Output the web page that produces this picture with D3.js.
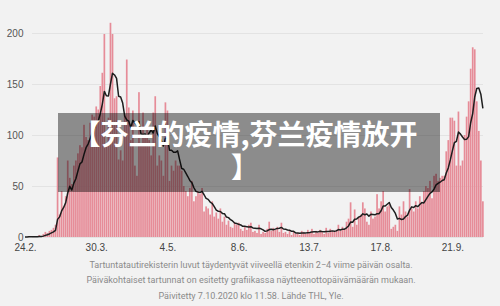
<!DOCTYPE html>
<html>
<head>
<meta charset="utf-8">
<script src="https://cdn.jsdelivr.net/npm/d3@7"></script>
<style>
  html, body { margin: 0; padding: 0; background: #f2f2f2; }
  svg { display: block; }
</style>
</head>
<body>
<div id="chart"></div>
<script>
// daily new cases from 24.2.2020 onwards (one value per day)
var firstDay = "24.2.2020";
var cases = [
  0, 0, 1, 0, 0, 0, 0,
  2, 1, 3, 5, 4, 6, 7,
  9, 12, 78, 22, 45, 30, 40,
  75, 58, 52, 70, 75, 82, 90,
  88, 110, 98, 95, 112, 120, 118,
  128, 125, 148, 161, 199, 90, 117,
  210, 199, 136, 138, 76, 85, 75,
  120, 174, 127, 95, 124, 70, 60,
  142, 90, 122, 100, 105, 95, 80,
  122, 138, 70, 80, 75, 60, 132,
  124, 55, 70, 65, 75, 70, 70,
  65, 50, 45, 40, 48, 55, 35,
  40, 45, 42, 48, 25, 30, 28,
  22, 35, 20, 24, 18, 28, 15,
  20, 12, 16, 10, 9, 14, 12,
  14, 8, 6, 10, 7, 12, 14,
  5, 6, 4, 12, 3, 5, 4,
  8, 15, 6, 9, 7, 10, 5,
  14, 4, 5, 3, 6, 2, 5,
  3, 4, 2, 6, 5, 3, 7,
  4, 8, 3, 6, 4, 7, 5,
  3, 9, 4, 8, 6, 5, 7,
  12, 6, 10, 8, 15, 18, 34,
  10, 27, 12, 20, 22, 34, 28,
  15, 12, 25, 18, 20, 42, 28,
  35, 45, 25, 30, 32, 8, 10,
  12, 6, 30, 22, 35, 25, 20,
  47, 28, 25, 35, 28, 40, 33,
  45, 50, 48, 55, 38, 60, 62,
  55, 58, 60, 60, 84, 95, 117,
  117, 114, 70, 123, 70, 75, 100,
  118, 133, 165, 186, 184, 133, 104,
  75, 35
];
var yTicks = [0, 50, 100, 150, 200];
var xTickLabels = ["24.2.", "30.3.", "4.5.", "8.6.", "13.7.", "17.8.", "21.9."];
var titleLines = ["【芬兰的疫情,芬兰疫情放开", "】"];
var notes = [
  "Tartuntatautirekisterin luvut täydentyvät viiveellä etenkin 2−4 viime päivän osalta.",
  "Päiväkohtaiset tartunnat on esitetty grafiikassa näytteenottopäivämäärän mukaan.",
  "Päivitetty 7.10.2020 klo 11.58. Lähde THL, Yle."
];

var w = 500, h = 306;
var parseDay = d3.utcParse("%d.%m.%Y");
var start = parseDay(firstDay);
var days = cases.map(function(v, i) { return d3.utcDay.offset(start, i); });

// 7 day trailing mean
var avg = cases.map(function(v, i) {
  return d3.mean(cases.slice(Math.max(0, i - 6), i + 1));
});

var svg = d3.select("#chart").append("svg")
  .attr("width", w)
  .attr("height", h);

svg.append("rect").attr("width", w).attr("height", h).attr("fill", "#f2f2f2");

var x = d3.scaleUtc()
  .domain([days[0], days[days.length - 1]])
  .range([25, 25 + (cases.length - 1) * 2.035]);
var y = d3.scaleLinear().domain([0, 200]).range([237, 33]);

// grid + y labels
svg.append("g")
  .attr("transform", "translate(32,0)")
  .attr("font-family", "Roboto, sans-serif")
  .attr("font-size", "10.5px")
  .call(d3.axisLeft(y).tickValues(yTicks).tickSize(-451).tickPadding(8.5))
  .call(function(g) {
    g.select(".domain").remove();
    g.selectAll("line").attr("stroke", "#e3e3e3");
    g.selectAll("text").attr("fill", "#555");
  });

// bars
svg.append("g").selectAll("rect")
  .data(cases)
  .enter()
  .append("rect")
  .attr("x", function(d, i) { return x(days[i]) - 0.85; })
  .attr("y", function(d) { return y(d); })
  .attr("width", 1.7)
  .attr("height", function(d) { return y(0) - y(d); })
  .attr("fill", "#e68c98");

// moving average
var line = d3.line()
  .x(function(d, i) { return x(days[i]); })
  .y(function(d) { return y(d); });

svg.append("path")
  .datum(avg)
  .attr("d", line)
  .attr("fill", "none")
  .attr("stroke", "#1e1e1e")
  .attr("stroke-width", 1.5)
  .attr("stroke-linejoin", "round");

// x labels
var tickDates = xTickLabels.map(function(t) { return parseDay(t + "2020"); });
svg.append("g")
  .attr("transform", "translate(0,237)")
  .attr("font-family", "Roboto, sans-serif")
  .attr("font-size", "10.5px")
  .call(d3.axisBottom(x).tickValues(tickDates).tickSize(0).tickPadding(7)
    .tickFormat(function(d, i) { return xTickLabels[i]; }))
  .call(function(g) {
    g.select(".domain").remove();
    g.selectAll("text").attr("fill", "#444");
  });

// title overlay, one wrapped text
svg.append("rect")
  .attr("x", 58).attr("y", 113)
  .attr("width", 382).attr("height", 79)
  .attr("fill", "#000")
  .attr("opacity", 0.42);

svg.append("text")
  .attr("text-anchor", "middle")
  .attr("font-family", "'Noto Sans CJK SC', sans-serif")
  .attr("font-weight", "bold")
  .attr("font-size", "28px")
  .attr("fill", "#fff")
  .selectAll("tspan")
  .data(titleLines)
  .enter()
  .append("tspan")
  .text(function(d) { return d; })
  .attr("x", 245)
  .attr("y", function(d, i) { return 145 + i * 33; });

// notes
svg.append("g").selectAll("text")
  .data(notes)
  .enter()
  .append("text")
  .text(function(d) { return d; })
  .attr("x", 251)
  .attr("y", function(d, i) { return 267.5 + i * 15.8; })
  .attr("text-anchor", "middle")
  .attr("font-family", "Roboto, sans-serif")
  .attr("font-size", "9px")
  .attr("fill", "#8a8a8a");
</script>
</body>
</html>
